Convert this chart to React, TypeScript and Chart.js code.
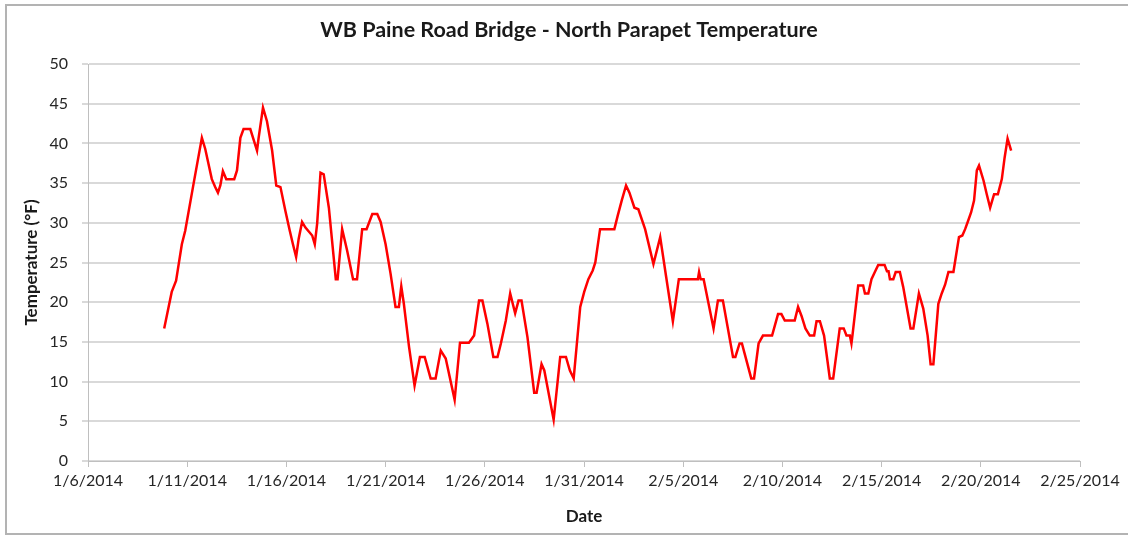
import React, { useEffect, useRef } from "react";
import { Chart, registerables } from "chart.js";

Chart.register(...registerables);

// Day of year 2014 (1/6/2014 = 6, 2/25/2014 = 56)
const dayOfYear: number[] = [
  9.84, 10.22, 10.44, 10.73, 10.9, 11.32, 11.74, 11.91, 12.24, 12.41, 12.55, 12.67, 12.8, 12.97, 13.37, 13.51,
  13.68, 13.84, 14.18, 14.52, 14.6, 14.82, 15.02, 15.28, 15.49, 15.7, 15.95, 16.17, 16.33, 16.49, 16.62, 16.79,
  16.96, 17.3, 17.43, 17.55, 17.72, 17.88, 18.14, 18.3, 18.49, 18.58, 18.81, 19.06, 19.36, 19.56, 19.82, 20.04,
  20.33, 20.58, 20.75, 21.0, 21.25, 21.5, 21.67, 21.79, 21.92, 22.18, 22.46, 22.73, 22.97, 23.27, 23.52, 23.78,
  24.03, 24.48, 24.75, 25.2, 25.46, 25.71, 25.88, 26.13, 26.43, 26.64, 26.81, 27.06, 27.28, 27.53, 27.7, 27.85,
  28.15, 28.49, 28.61, 28.86, 29.0, 29.47, 29.8, 30.09, 30.29, 30.48, 30.81, 31.01, 31.22, 31.44, 31.57, 31.81,
  32.53, 32.7, 32.9, 33.12, 33.29, 33.54, 33.74, 34.08, 34.5, 34.84, 35.14, 35.48, 35.78, 36.74, 36.8, 36.88,
  37.03, 37.16, 37.53, 37.75, 38.0, 38.51, 38.63, 38.84, 38.96, 39.1, 39.43, 39.57, 39.8, 40.02, 40.48, 40.78,
  40.95, 41.12, 41.62, 41.79, 41.96, 42.16, 42.38, 42.6, 42.72, 42.89, 43.1, 43.39, 43.56, 43.89, 44.09, 44.23,
  44.4, 44.48, 44.53, 44.82, 45.07, 45.16, 45.33, 45.49, 45.66, 45.83, 46.15, 46.27, 46.35, 46.42, 46.59, 46.71,
  46.92, 47.09, 47.46, 47.6, 47.88, 48.1, 48.32, 48.47, 48.61, 48.86, 49.03, 49.2, 49.37, 49.62, 49.74, 49.9,
  50.07, 50.21, 50.34, 50.51, 50.66, 50.8, 50.91, 51.14, 51.3, 51.47, 51.67, 51.86, 52.06, 52.2, 52.35, 52.53,
];

const temperatureF: number[] = [
  16.7, 21.3, 22.7, 27.3, 29.0, 34.9, 40.7, 39.3, 35.5, 34.5, 33.8, 34.7, 36.5, 35.5, 35.5, 36.6,
  40.7, 41.8, 41.8, 39.1, 40.7, 44.5, 42.8, 39.1, 34.7, 34.5, 31.5, 29.0, 27.3, 25.7, 28.0, 30.1,
  29.4, 28.4, 27.3, 29.9, 36.3, 36.1, 31.9, 27.8, 22.9, 22.9, 29.2, 26.5, 22.9, 22.9, 29.2, 29.2,
  31.1, 31.1, 30.1, 27.3, 23.6, 19.4, 19.4, 22.0, 19.8, 14.4, 9.5, 13.1, 13.1, 10.4, 10.4, 13.9,
  12.9, 7.7, 14.9, 14.9, 15.8, 20.2, 20.2, 17.3, 13.1, 13.1, 14.8, 17.7, 21.1, 18.6, 20.2, 20.2,
  15.6, 8.6, 8.6, 12.2, 11.4, 5.2, 13.1, 13.1, 11.4, 10.4, 19.4, 21.3, 22.9, 24.0, 25.0, 29.2,
  29.2, 30.9, 32.8, 34.7, 33.8, 31.9, 31.7, 29.2, 24.8, 28.2, 23.2, 17.6, 22.9, 22.9, 23.8, 22.9,
  22.9, 21.3, 16.7, 20.2, 20.2, 13.1, 13.1, 14.8, 14.8, 13.5, 10.4, 10.4, 14.8, 15.8, 15.8, 18.5,
  18.5, 17.7, 17.7, 19.4, 18.3, 16.7, 15.8, 15.8, 17.6, 17.6, 15.8, 10.4, 10.4, 16.7, 16.7, 15.8,
  15.8, 14.8, 15.8, 22.1, 22.1, 21.1, 21.1, 22.9, 23.8, 24.7, 24.7, 23.9, 23.9, 22.9, 22.9, 23.8,
  23.8, 21.9, 16.7, 16.7, 21.1, 19.2, 15.8, 12.2, 12.2, 19.8, 21.1, 22.2, 23.8, 23.8, 25.7, 28.2,
  28.4, 29.2, 30.1, 31.3, 32.8, 36.6, 37.2, 35.3, 33.6, 31.9, 33.6, 33.6, 35.5, 38.2, 40.6, 39.1,
];

const xTickLabels: string[] = [
  "1/6/2014", "1/11/2014", "1/16/2014", "1/21/2014", "1/26/2014", "1/31/2014",
  "2/5/2014", "2/10/2014", "2/15/2014", "2/20/2014", "2/25/2014",
];

const chartTitle = "WB Paine Road Bridge - North Parapet Temperature";
const xTitle = "Date";
const yTitle = "Temperature (°F)";

const FONT = "Lato, 'Open Sans', sans-serif";

const framePlugin = {
  id: "frame",
  beforeDraw(chart: any) {
    const ctx = chart.ctx;
    ctx.save();
    ctx.fillStyle = "#ffffff";
    ctx.fillRect(0, 0, chart.width, chart.height);
    ctx.strokeStyle = "#b3b3b3";
    ctx.lineWidth = 2;
    ctx.strokeRect(6, 5, chart.width + 20, 529);
    ctx.restore();
  },
  afterDraw(chart: any) {
    const ctx = chart.ctx;
    ctx.save();
    ctx.fillStyle = "#1a1a1a";
    ctx.font = `bold 21.5px ${FONT}`;
    ctx.textAlign = "center";
    ctx.textBaseline = "middle";
    ctx.fillText(chartTitle, 569, 30);
    ctx.restore();
  },
};

export default function App() {
  const canvasRef = useRef<HTMLCanvasElement | null>(null);

  useEffect(() => {
    if (!canvasRef.current) return;
    const points = dayOfYear.map((d, i) => ({ x: d, y: temperatureF[i] }));
    const chart = new Chart(canvasRef.current, {
      type: "line",
      data: {
        datasets: [
          {
            label: "North Parapet",
            data: points,
            borderColor: "#ff0000",
            backgroundColor: "#ff0000",
            borderWidth: 2.5,
            pointRadius: 0,
            tension: 0,
            fill: false,
          },
        ],
      },
      options: {
        animation: false,
        responsive: true,
        maintainAspectRatio: false,
        layout: { padding: { top: 64, right: 48, bottom: 0, left: 0 } },
        plugins: {
          legend: { display: false },
          tooltip: { enabled: false },
          title: { display: false },
        },
        scales: {
          x: {
            type: "linear",
            min: 6,
            max: 56,
            afterFit: (scale: any) => {
              scale.height = 75;
            },
            afterBuildTicks: (scale: any) => {
              scale.ticks = xTickLabels.map((_, i) => ({ value: 6 + i * 5 }));
            },
            ticks: {
              autoSkip: false,
              maxRotation: 0,
              padding: 4,
              color: "#262626",
              font: { family: FONT, size: 16 },
              callback: (_v: any, i: number) => xTickLabels[i],
            },
            grid: {
              drawOnChartArea: false,
              drawTicks: true,
              tickLength: 6,
              color: "#bfbfbf",
              lineWidth: 1,
            },
            border: { color: "#bfbfbf", width: 1 },
            title: {
              display: true,
              text: xTitle,
              color: "#1a1a1a",
              font: { family: FONT, size: 17, weight: "bold" },
              padding: { top: 0, bottom: 9 },
            },
          },
          y: {
            min: 0,
            max: 50,
            afterFit: (scale: any) => {
              scale.width = 88;
            },
            ticks: {
              stepSize: 5,
              padding: 14,
              color: "#262626",
              font: { family: FONT, size: 16 },
            },
            grid: {
              color: "#d9d9d9",
              lineWidth: 2,
              drawTicks: true,
              tickLength: 6,
            },
            border: { color: "#bfbfbf", width: 1 },
            title: {
              display: true,
              text: yTitle,
              color: "#1a1a1a",
              font: { family: FONT, size: 17, weight: "bold" },
              padding: { top: 21, bottom: 0 },
            },
          },
        },
      },
      plugins: [framePlugin],
    });
    return () => chart.destroy();
  }, []);

  return (
    <div style={{ position: "absolute", left: 0, top: 0, width: 1128, height: 536, background: "#fff" }}>
      <canvas ref={canvasRef} />
    </div>
  );
}
